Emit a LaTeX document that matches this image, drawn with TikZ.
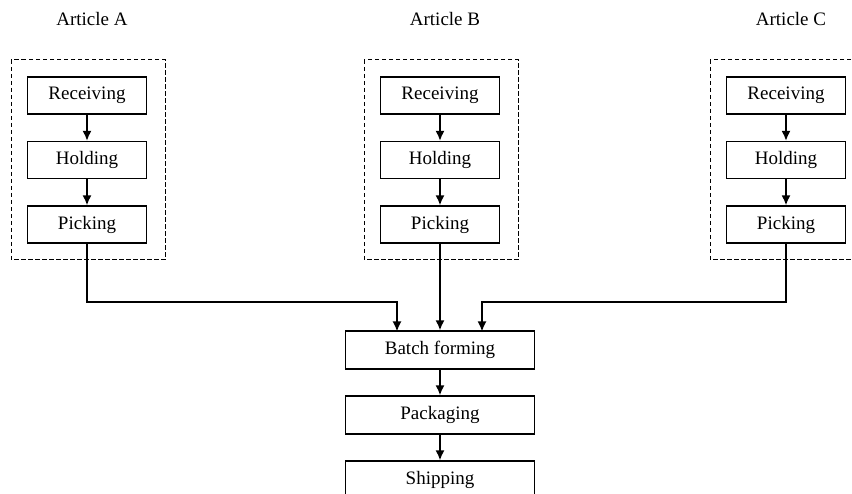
\documentclass[tikz,border=0pt]{standalone}
\usepackage{fontspec}
\setmainfont{Liberation Serif}
\usetikzlibrary{arrows.meta}
\begin{document}
\begin{tikzpicture}[x=1pt,y=-1pt,
  txt/.style={font=\fontsize{19}{22}\selectfont},
  stepbox/.style={draw,line width=1.2pt,minimum width=119pt,minimum height=37pt,inner sep=0pt,txt},
  bigbox/.style={draw,line width=1.2pt,minimum width=189pt,minimum height=38pt,inner sep=0pt,txt},
  group/.style={draw,line width=1pt,dash pattern=on 4.5pt off 2.5pt},
  flow/.style={line width=1.8pt,-{Latex[length=10pt,width=9pt]}},
  link/.style={line width=1.1pt}]
\useasboundingbox (0,0) rectangle (852,494);
\clip (0,0) rectangle (852,494);
% three article columns
\foreach \n/\x/\t in {a/87/Article A,b/440/Article B,c/786/Article C}{
  \node[txt] (t\n) at (\x+5,19) {\t};
  \node[stepbox] (r\n) at (\x,95.5) {Receiving};
  \node[stepbox] (h\n) at (\x,160) {Holding};
  \node[stepbox] (p\n) at (\x,224.5) {Picking};
  \draw[group] (\x-76,60) rectangle (\x+78,260);
  \draw[flow] (r\n) -- (h\n);
  \draw[flow] (h\n) -- (p\n);
}
% common outbound flow
\node[bigbox] (batch) at (440,350) {Batch forming};
\node[bigbox] (pack) at (440,415) {Packaging};
\node[bigbox] (ship) at (440,480) {Shipping};
\coordinate (inA) at (397,331.5);
\coordinate (inC) at (482,331.5);
\draw[link] (pa.south) |- (397,302);
\draw[flow] (397,301.45) -- (inA);
\draw[link] (pc.south) |- (482,302);
\draw[flow] (482,301.45) -- (inC);
\draw[flow] (pb) -- (batch);
\draw[flow] (batch) -- (pack);
\draw[flow] (pack) -- (ship);
\end{tikzpicture}
\end{document}
